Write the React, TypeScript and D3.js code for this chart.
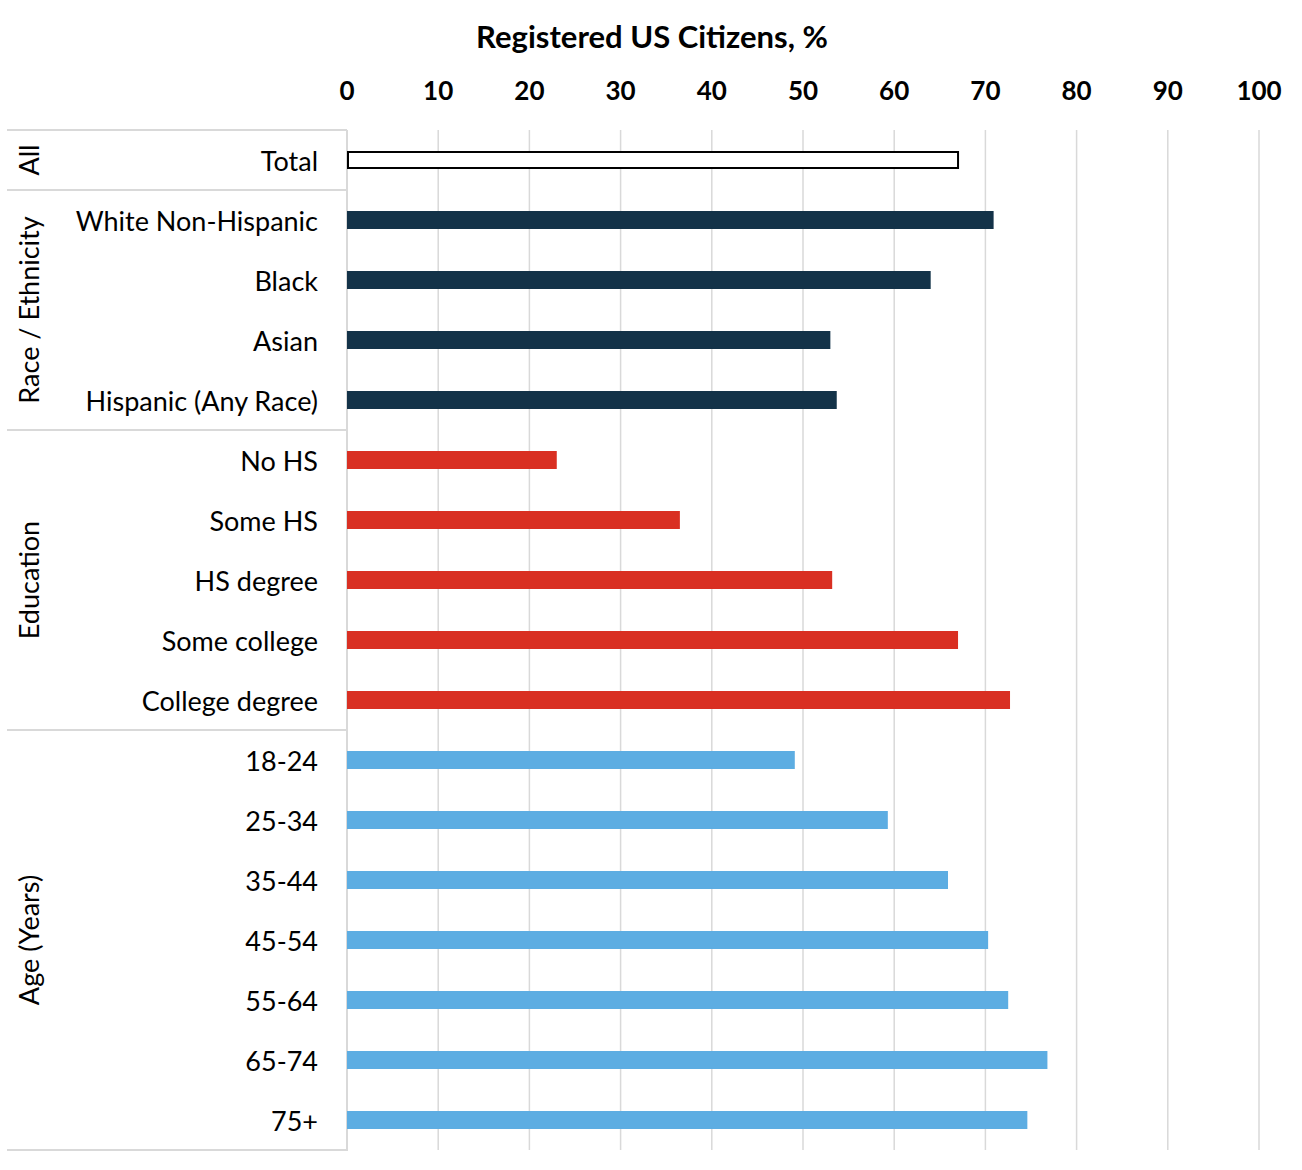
import React from "react";
import * as d3 from "d3";

const categories = [
  "Total",
  "White Non-Hispanic",
  "Black",
  "Asian",
  "Hispanic (Any Race)",
  "No HS",
  "Some HS",
  "HS degree",
  "Some college",
  "College degree",
  "18-24",
  "25-34",
  "35-44",
  "45-54",
  "55-64",
  "65-74",
  "75+",
];

const values = [67, 70.9, 64, 53, 53.7, 23, 36.5, 53.2, 67, 72.7, 49.1, 59.3, 65.9, 70.3, 72.5, 76.8, 74.6];

const groupNames = ["All", "Race / Ethnicity", "Education", "Age (Years)"];
const groupSizes = [1, 4, 5, 7];
const groupColors = ["#ffffff", "#133248", "#d92f22", "#5dade2"];

const xTicks = [0, 10, 20, 30, 40, 50, 60, 70, 80, 90, 100];
const title = "Registered US Citizens, %";

const W = 1302;
const H = 1170;
const FONT = "Lato, 'Open Sans', sans-serif";

export default function App() {
  const x = d3.scaleLinear().domain([0, 100]).range([347, 1259]);
  const y = d3
    .scaleBand<string>()
    .domain(categories)
    .range([130, 1150])
    .paddingInner(0.7)
    .paddingOuter(0.35);
  const step = y.step();
  const grid = "#d9d9d9";

  const groupIndex: number[] = [];
  groupSizes.forEach((s, gi) => {
    for (let k = 0; k < s; k++) groupIndex.push(gi);
  });

  const bounds: number[] = [0];
  groupSizes.forEach((s) => bounds.push(bounds[bounds.length - 1] + s));
  const yTop = 130;
  const boundaryY = (i: number) => yTop + i * step;

  return (
    <svg
      width={W}
      height={H}
      style={{ position: "absolute", left: 0, top: 0, display: "block", background: "#fff" }}
    >
      <text
        x={652}
        y={36}
        textAnchor="middle"
        dominantBaseline="central"
        fontFamily={FONT}
        fontWeight={700}
        fontSize={31}
        fill="#000"
      >
        {title}
      </text>
      {xTicks.map((t) => (
        <g key={t}>
          <text
            x={x(t)}
            y={90}
            textAnchor="middle"
            dominantBaseline="central"
            fontFamily={FONT}
            fontWeight={700}
            fontSize={26}
            fill="#000"
          >
            {t}
          </text>
          {t > 0 && (
            <line x1={x(t)} x2={x(t)} y1={yTop} y2={boundaryY(categories.length)} stroke={grid} strokeWidth={1.5} />
          )}
        </g>
      ))}
      <line x1={x(0)} x2={x(0)} y1={yTop} y2={boundaryY(categories.length) + 1} stroke={grid} strokeWidth={2} />
      {bounds.map((b, i) => (
        <line
          key={"b" + i}
          x1={7}
          x2={x(0)}
          y1={boundaryY(b)}
          y2={boundaryY(b)}
          stroke={grid}
          strokeWidth={2}
        />
      ))}
      {groupNames.map((g, i) => {
        const cy = (boundaryY(bounds[i]) + boundaryY(bounds[i + 1])) / 2;
        return (
          <text
            key={g}
            transform={`translate(28,${cy}) rotate(-90)`}
            textAnchor="middle"
            dominantBaseline="central"
            fontFamily={FONT}
            fontSize={27}
            fill="#000"
          >
            {g}
          </text>
        );
      })}
      {categories.map((c) => (
        <text
          key={"l" + c}
          x={318}
          y={(y(c) as number) + y.bandwidth() / 2}
          textAnchor="end"
          dominantBaseline="central"
          fontFamily={FONT}
          fontSize={27}
          fill="#000"
        >
          {c}
        </text>
      ))}
      {categories.map((c, i) => {
        const gi = groupIndex[i];
        const isTotal = gi === 0;
        return (
          <rect
            key={"r" + c}
            x={x(0) + (isTotal ? 1 : 0)}
            y={(y(c) as number) + (isTotal ? 1 : 0)}
            width={x(values[i]) - x(0) - (isTotal ? 1 : 0)}
            height={y.bandwidth() - (isTotal ? 2 : 0)}
            fill={groupColors[gi]}
            stroke={isTotal ? "#000" : "none"}
            strokeWidth={isTotal ? 2 : 0}
          />
        );
      })}
    </svg>
  );
}
